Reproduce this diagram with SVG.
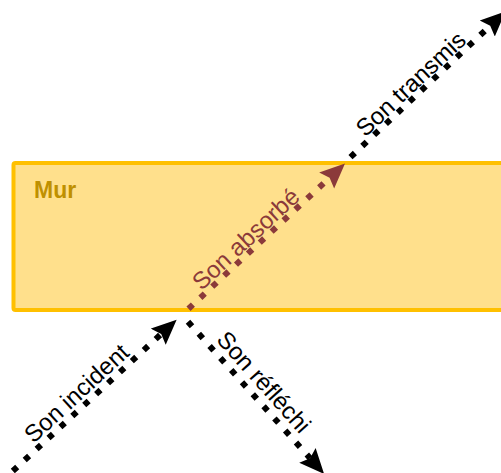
<svg xmlns="http://www.w3.org/2000/svg" width="501" height="473" viewBox="0 0 501 473">
  <style>
    .lbl { font-family: "Liberation Sans", Arial, sans-serif; font-size: 24px; text-anchor: middle; }
    .ray { fill: none; stroke-width: 6; stroke-dasharray: 6 10.2; }
    .blk { stroke: #000000; }
    .mar { stroke: #8B3A3A; }
  </style>
  <defs>
    <marker id="ab" markerUnits="userSpaceOnUse" markerWidth="26" markerHeight="24" viewBox="0 -12 26 24" refX="4" refY="0" orient="auto">
      <path d="M0,-11 L25,0 L0,11 L4,0 Z" fill="#000000"/>
    </marker>
    <marker id="am" markerUnits="userSpaceOnUse" markerWidth="26" markerHeight="24" viewBox="0 -12 26 24" refX="4" refY="0" orient="auto">
      <path d="M0,-11 L25,0 L0,11 L4,0 Z" fill="#8B3A3A"/>
    </marker>
  </defs>
  <g id="mur">
    <rect x="13.5" y="163" width="500" height="147" rx="2" fill="#FFE08C" stroke="#FFC000" stroke-width="4"/>
    <text x="34" y="198.3" font-family="Liberation Sans, Arial, sans-serif" font-size="23" font-weight="bold" fill="#BF9000">Mur</text>
  </g>
  <g id="connectors">
    <path id="incident" class="ray blk" d="M0.9,482 L161.2,334" marker-end="url(#ab)"/>
    <path id="reflechi" class="ray blk" d="M188,321.8 L310.1,458.3" marker-end="url(#ab)"/>
    <path id="absorbe" class="ray mar" d="M188.5,308.7 L329.6,177.8" marker-end="url(#am)"/>
    <path id="transmis" class="ray blk" d="M350.5,157.1 L490.2,25.8" marker-end="url(#ab)"/>
  </g>
  <g id="labels">
    <text class="lbl" fill="#000000" transform="translate(82.1,399.2) rotate(-42.7)">Son incident</text>
    <text class="lbl" fill="#000000" transform="translate(257.8,387.6) rotate(48.2)">Son réfléchi</text>
    <text class="lbl" fill="#8B3A3A" transform="translate(251.3,245) rotate(-42.9)">Son absorbé</text>
    <text class="lbl" fill="#000000" transform="translate(416.4,89.9) rotate(-43.2)">Son transmis</text>
  </g>
</svg>
